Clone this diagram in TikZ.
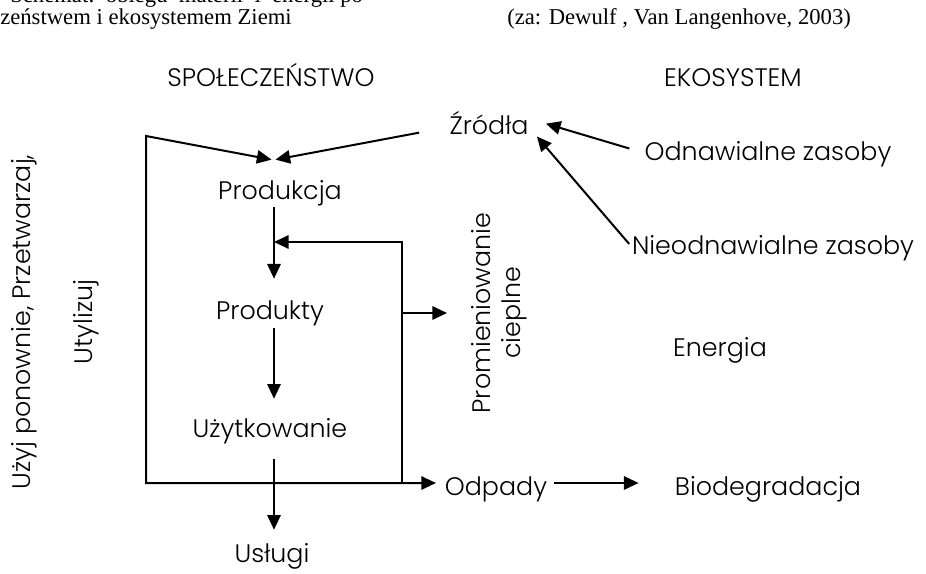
\documentclass[tikz,border=0pt]{standalone}
\usepackage{fontspec}
\setmainfont{Poppins Light}
\newfontfamily\szeryf{Liberation Serif}
\usetikzlibrary{arrows.meta}

\tikzset{
  napis/.style={inner sep=0pt, font=\fontsize{19}{23}\selectfont},
  etykieta/.style={napis, anchor=base, text height=16pt, text depth=4pt},
  naglowek/.style={inner sep=0pt, anchor=base west, font=\szeryf\fontsize{17}{20}\selectfont},
  linia/.style={line width=1.5pt},
  grot/.style={-{Triangle[length=11pt,width=10pt]}},
  strzalka/.style={linia, grot},
}

\begin{document}
\begin{tikzpicture}[x=0.75pt,y=-0.75pt]
  \useasboundingbox (0,0) rectangle (926,574);
  \clip (0,0) rectangle (926,574);

  % naglowek (uciety przy krawedzi)
  \node[naglowek] (tytul1) at (10,3) {Schemat:\ \ obiegu\ \ materii\ \ i\ \ energii po};
  \node[naglowek] (tytul2) at (0,25) {zeństwem i ekosystemem Ziemi};
  \node[naglowek] (autorzy) at (507,25) {(za: Dewulf , Van Langenhove, 2003)};

  % napisy
  \node[etykieta] (spol) at (271,87) {SPOŁECZEŃSTWO};
  \node[etykieta] (eko) at (733,87) {EKOSYSTEM};
  \node[etykieta] (zrod) at (489,135) {Źródła};
  \node[etykieta] (odn) at (768,161) {Odnawialne zasoby};
  \node[etykieta] (nieodn) at (773,255) {Nieodnawialne zasoby};
  \node[etykieta] (prod) at (280,200) {Produkcja};
  \node[etykieta] (prdk) at (270,320) {Produkty};
  \node[etykieta] (uzyt) at (270,437) {Użytkowanie};
  \node[etykieta] (uslugi) at (272,562) {Usługi};
  \node[etykieta] (odpady) at (496,495) {Odpady};
  \node[etykieta] (biodeg) at (768,495) {Biodegradacja};
  \node[etykieta] (energia) at (720,357) {Energia};
  \node[napis, rotate=90, align=center, anchor=north] (prom) at (471,313) {Promieniowanie\\cieplne};
  \node[napis, rotate=90, align=center, anchor=north] (uzyj) at (11,322) {Użyj ponownie, Przetwarzaj,\\[24pt]Utylizuj};

  \coordinate (kol) at (274,0);
  \coordinate (wej) at (273.5,160);
  \coordinate (rogG) at (146,136);
  \coordinate (rogD) at (146,483);
  \coordinate (rogP) at (402,242);

  % obieg materii
  \draw[linia, {Triangle[length=11pt,width=10pt]}-{Triangle[length=11pt,width=10pt]},
        shorten <=1.5pt, shorten >=6.5pt] (wej) -- (rogG) -- (rogD) -- (rogD -| odpady.west);
  \draw[strzalka, shorten <=23pt, shorten >=1.5pt] (zrod.west) -- (wej);
  \draw[strzalka, shorten <=1.3pt, shorten >=14.8pt] (prod.south -| kol) -- (prdk.north -| kol);
  \draw[strzalka, shorten <=2pt, shorten >=12.5pt] (prdk.south -| kol) -- (uzyt.north -| kol);
  \draw[strzalka, shorten <=12.5pt, shorten >=8pt] (uzyt.south -| kol) -- (uslugi.north -| kol);
  \draw[strzalka] (rogD -| rogP) -- (rogP) -- (rogP -| kol);
  \draw[strzalka, shorten >=18pt] (prom.north -| rogP) -- (prom.north);
  \draw[strzalka, shorten <=5pt, shorten >=27pt] (odpady.east |- rogD) -- (biodeg.west |- rogD);

  % zasoby
  \draw[strzalka, shorten <=11.8pt, shorten >=13.4pt] (odn.west) -- (zrod.12);
  \draw[strzalka, shorten <=3pt, shorten >=9.4pt] (nieodn.west) -- (zrod.east);
\end{tikzpicture}
\end{document}
